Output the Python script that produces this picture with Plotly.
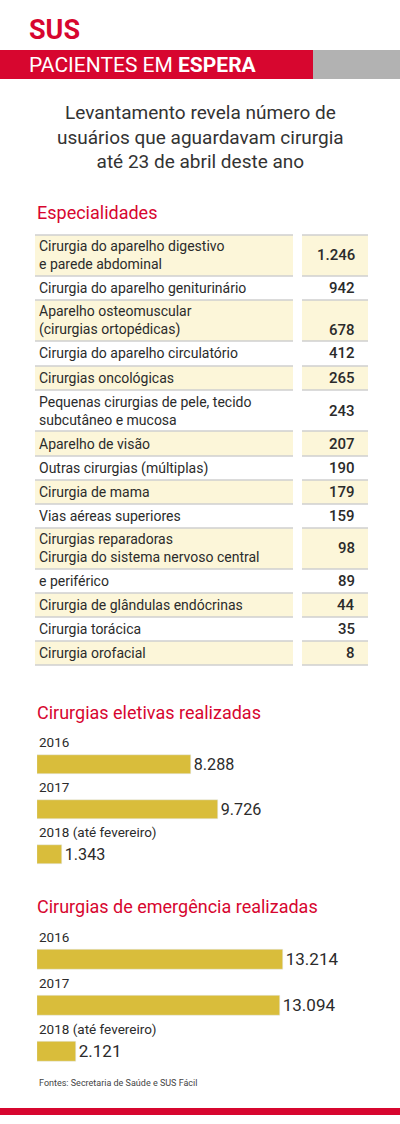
import plotly.graph_objects as go

W, H = 400, 1124
RED = "#d7062f"
BAR = "#d9bd3b"
SHADE = "#fcf6d9"
DARK = "#2b2b2b"

# ---- data ----
especialidades = [
    "Cirurgia do aparelho digestivo<br>e parede abdominal",
    "Cirurgia do aparelho geniturinário",
    "Aparelho osteomuscular<br>(cirurgias ortopédicas)",
    "Cirurgia do aparelho circulatório",
    "Cirurgias oncológicas",
    "Pequenas cirurgias de pele, tecido<br>subcutâneo e mucosa",
    "Aparelho de visão",
    "Outras cirurgias (múltiplas)",
    "Cirurgia de mama",
    "Vias aéreas superiores",
    "Cirurgias reparadoras<br>Cirurgia do sistema nervoso central",
    "e periférico",
    "Cirurgia de glândulas endócrinas",
    "Cirurgia torácica",
    "Cirurgia orofacial",
]
pacientes = [1246, 942, 678, 412, 265, 243, 207, 190, 179, 159, 98, 89, 44, 35, 8]

anos = ["2016", "2017", "2018 (até fevereiro)"]
eletivas = [8288, 9726, 1343]
emergencia = [13214, 13094, 2121]

# ---- layout geometry (pixels) ----
row_bounds = [235, 276, 300, 341, 366, 390, 431, 456, 480, 504, 528, 569, 593, 617, 641, 665]


def px(x):
    return x / W


def py(y):
    return 1 - y / H


def fmt(v):
    return f"{v:,}".replace(",", ".")


shapes = []
ann = []


def text(x, y, s, size, color=DARK, xanchor="left", yanchor="middle", family="Roboto", align="left"):
    ann.append(dict(x=px(x), y=py(y), xref="paper", yref="paper", text=s, showarrow=False,
                    xanchor=xanchor, yanchor=yanchor, align=align,
                    font=dict(size=size, color=color, family=family)))


def rect(x0, y0, x1, y1, color, line=None):
    shapes.append(dict(type="rect", xref="paper", yref="paper", x0=px(x0), x1=px(x1),
                       y0=py(y1), y1=py(y0), fillcolor=color, layer="below",
                       line=dict(width=0) if line is None else line))


def hline(x0, x1, y, color="#cfcfcf", w=1.5):
    shapes.append(dict(type="line", xref="paper", yref="paper", x0=px(x0), x1=px(x1),
                       y0=py(y), y1=py(y), line=dict(color=color, width=w)))


# header
text(27, 30, "<b>SUS</b>", 27, RED)
rect(0, 50, 316, 79, RED)
rect(313, 50, 400, 79, "#b2b2b2")
text(27, 65, "PACIENTES EM <b>ESPERA</b>", 21, "white")
text(200, 137, "Levantamento revela número de<br>usuários que aguardavam cirurgia<br>até 23 de abril deste ano",
     19, "#333333", xanchor="center", align="center")
text(35, 213, "Especialidades", 18, RED)

# table
for i, (lab, val) in enumerate(zip(especialidades, pacientes)):
    y0, y1 = row_bounds[i], row_bounds[i + 1]
    if i % 2 == 0:
        rect(35, y0, 293, y1, SHADE)
        rect(302, y0, 368, y1, SHADE)
    hline(35, 293, y0)
    hline(302, 368, y0)
    text(37, (y0 + y1) / 2, lab, 14, DARK)
    vy = (y0 + y1) / 2 if i != 2 else y1 - 11
    text(357, vy, fmt(val), 15, DARK, xanchor="right", family="Roboto Medium, Roboto")
hline(35, 293, row_bounds[-1])
hline(302, 368, row_bounds[-1])

# section titles
text(35, 712, "Cirurgias eletivas realizadas", 18, RED)
text(35, 906, "Cirurgias de emergência realizadas", 18, RED)
text(37, 1083, "Fontes: Secretaria de Saúde e SUS Fácil", 9, "#444444")
rect(0, 1108, 400, 1115, RED)

fig = go.Figure()
fig.add_trace(go.Bar(y=list(range(3)), x=eletivas, orientation="h", marker_color=BAR, width=0.42,
                     text=[fmt(v) for v in eletivas], textposition="outside", cliponaxis=False,
                     textfont=dict(size=17, color=DARK, family="Roboto"), xaxis="x", yaxis="y"))
fig.add_trace(go.Bar(y=list(range(3)), x=emergencia, orientation="h", marker_color=BAR, width=0.42,
                     text=[fmt(v) for v in emergencia], textposition="outside", cliponaxis=False,
                     textfont=dict(size=17, color=DARK, family="Roboto"), xaxis="x2", yaxis="y2"))

for ax in ("y", "y2"):
    for i, a in enumerate(anos):
        ann.append(dict(x=px(37), xref="paper", y=i - 0.5, yref=ax, text=a, showarrow=False,
                        xanchor="left", yanchor="middle",
                        font=dict(size=13.5, color=DARK, family="Roboto")))

xr = [0, 360 / 0.01858]
ax_common = dict(visible=False, fixedrange=True)
fig.update_layout(
    width=W, height=H, margin=dict(l=0, r=0, t=0, b=0),
    paper_bgcolor="white", plot_bgcolor="rgba(0,0,0,0)", showlegend=False,
    shapes=shapes, annotations=ann, bargap=0,
    xaxis=dict(domain=[px(37), px(397)], range=xr, anchor="y", **ax_common),
    yaxis=dict(domain=[py(877), py(742)], range=[2.5, -0.5], **ax_common),
    xaxis2=dict(domain=[px(37), px(397)], range=xr, anchor="y2", **ax_common),
    yaxis2=dict(domain=[py(1074.5), py(936.5)], range=[2.5, -0.5], **ax_common),
)
fig.write_html("out.html", config={"displayModeBar": False})

with open("out.html", encoding="utf-8") as f:
    html = f.read()
html = html.replace("<head>", "<head><style>html,body{margin:0;padding:0;overflow:hidden;}</style>", 1)
with open("out.html", "w", encoding="utf-8") as f:
    f.write(html)
